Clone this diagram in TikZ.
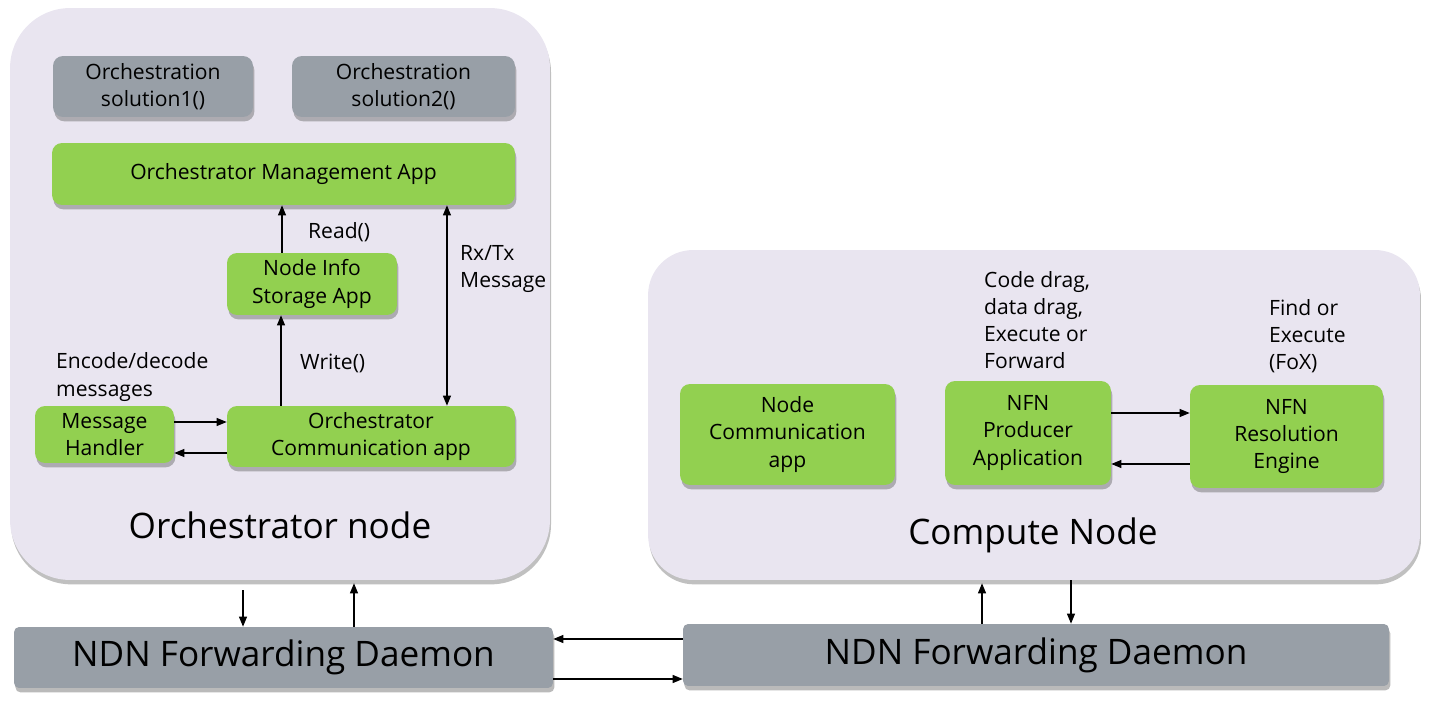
\documentclass[tikz,border=0pt]{standalone}
\usepackage{fontspec}
\setmainfont{Open Sans}
\usetikzlibrary{arrows.meta,shadows}

\definecolor{nodebg}{HTML}{E9E5F0}
\definecolor{appgreen}{HTML}{92D050}
\definecolor{fwdgray}{HTML}{989FA7}

\begin{document}
\begin{tikzpicture}[x=0.02cm, y=-0.02cm,
  font=\fontsize{12}{15.5}\selectfont,
  container/.style={fill=nodebg, inner sep=0pt,
    drop shadow={shadow xshift=0.6pt, shadow yshift=-2.5pt, fill=black!55, opacity=0.45}},
  appbox/.style={fill=appgreen, rounded corners=0.2cm, align=center, inner sep=0pt,
    drop shadow={shadow xshift=0.8pt, shadow yshift=-2.5pt, fill=black!60, opacity=0.45}},
  graybox/.style={appbox, fill=fwdgray},
  title/.style={font=\fontsize{20}{24}\selectfont},
  note/.style={anchor=west, align=left},
  arr/.style={-{Triangle[length=2mm,width=1.6mm]}, line width=0.6pt},
  dblarr/.style={{Triangle[length=2mm,width=1.6mm]}-{Triangle[length=2mm,width=1.6mm]}, line width=0.6pt}]
\useasboundingbox (0,0) rectangle (1430,716);

% The two machines
\node[container, rounded corners=1.2cm, minimum width=10.8cm, minimum height=11.44cm] (orch) at (280,294) {};
\node[container, rounded corners=0.9cm, minimum width=15.44cm, minimum height=6.6cm] (compute) at (1034,415) {};
\node[title] (orchtitle) at (280,525) {Orchestrator node};
\node[title] (computetitle) at (1033,535) {Compute Node};

% Apps on the orchestrator
\node[graybox, minimum width=4cm, minimum height=1.22cm] (sol1) at (153,86.5) {Orchestration\\solution1()};
\node[graybox, minimum width=4.46cm, minimum height=1.22cm] (sol2) at (403.5,86.5) {Orchestration\\solution2()};
\node[appbox, minimum width=9.26cm, minimum height=1.24cm] (mgmt) at (283.5,174) {Orchestrator Management App};
\node[appbox, minimum width=3.4cm, minimum height=1.24cm] (info) at (312,284) {Node Info\\Storage App};
\node[appbox, minimum width=2.78cm, minimum height=1.14cm] (handler) at (104.5,434.5) {Message\\Handler};
\node[appbox, minimum width=5.76cm, minimum height=1.22cm] (comm) at (371,436.5) {Orchestrator\\Communication app};

% Apps on the compute node
\node[appbox, minimum width=4.3cm, minimum height=2.02cm] (ncomm) at (787.5,434.5) {Node\\Communication\\app};
\node[appbox, minimum width=3.32cm, minimum height=2.08cm] (producer) at (1028,433) {NFN\\Producer\\Application};
\node[appbox, minimum width=3.86cm, minimum height=2.06cm] (resolver) at (1286.5,436.5) {NFN\\Resolution\\Engine};

% Forwarding daemons
\node[graybox, rounded corners=0.1cm, minimum width=10.78cm, minimum height=1.22cm, font=\fontsize{20}{24}\selectfont] (ndnL) at (283.5,657.5) {NDN Forwarding Daemon};
\node[graybox, rounded corners=0.1cm, minimum width=14.12cm, minimum height=1.24cm, font=\fontsize{20}{24}\selectfont] (ndnR) at (1036,655) {NDN Forwarding Daemon};

% Side notes
\node[note] (readlbl) at (302,232) {Read()};
\node[note] (writelbl) at (294,363) {Write()};
\node[note] (rxtxlbl) at (454,269) {Rx/Tx\\Message};
\node[note] (codeclbl) at (50,377) {Encode/decode\\messages};
\node[note] (draglbl) at (978,320) {Code drag,\\data drag,\\Execute or\\Forward};
\node[note] (foxlbl) at (1263,336) {Find or\\Execute\\(FoX)};

% Links inside the orchestrator
\draw[arr] ([xshift=-0.6cm]info.north) -- ([xshift=-0.6cm]info.north |- mgmt.south);
\draw[arr] ([xshift=-0.62cm]info.south |- comm.north) -- ([xshift=-0.62cm]info.south);
\draw[dblarr] ([xshift=3.27cm]mgmt.south) -- ([xshift=3.27cm]mgmt.south |- comm.north);
\draw[arr] ([yshift=0.25cm]handler.east) -- ([yshift=0.25cm]handler.east -| comm.west);
\draw[arr] ([yshift=-0.37cm]handler.east -| comm.west) -- ([yshift=-0.37cm]handler.east);

% Links inside the compute node
\draw[arr] ([yshift=0.4cm]producer.east) -- ([yshift=0.4cm]producer.east -| resolver.west);
\draw[arr] ([yshift=-0.62cm]producer.east -| resolver.west) -- ([yshift=-0.62cm]producer.east);

% Links to and between the daemons
\draw[arr] ([xshift=-0.74cm,yshift=-0.2cm]orch.south) -- ([xshift=-0.74cm]orch.south |- ndnL.north);
\draw[arr] ([xshift=1.48cm]orch.south |- ndnL.north) -- ([xshift=1.48cm,yshift=-0.06cm]orch.south);
\draw[arr] ([xshift=-1.04cm]compute.south |- ndnR.north) -- ([xshift=-1.04cm,yshift=-0.06cm]compute.south);
\draw[arr] ([xshift=0.74cm]compute.south) -- ([xshift=0.74cm]compute.south |- ndnR.north);
\draw[arr] ([yshift=0.37cm]ndnL.east -| ndnR.west) -- ([yshift=0.37cm]ndnL.east);
\draw[arr] ([yshift=-0.43cm]ndnL.east) -- ([yshift=-0.43cm]ndnL.east -| ndnR.west);
\end{tikzpicture}
\end{document}
